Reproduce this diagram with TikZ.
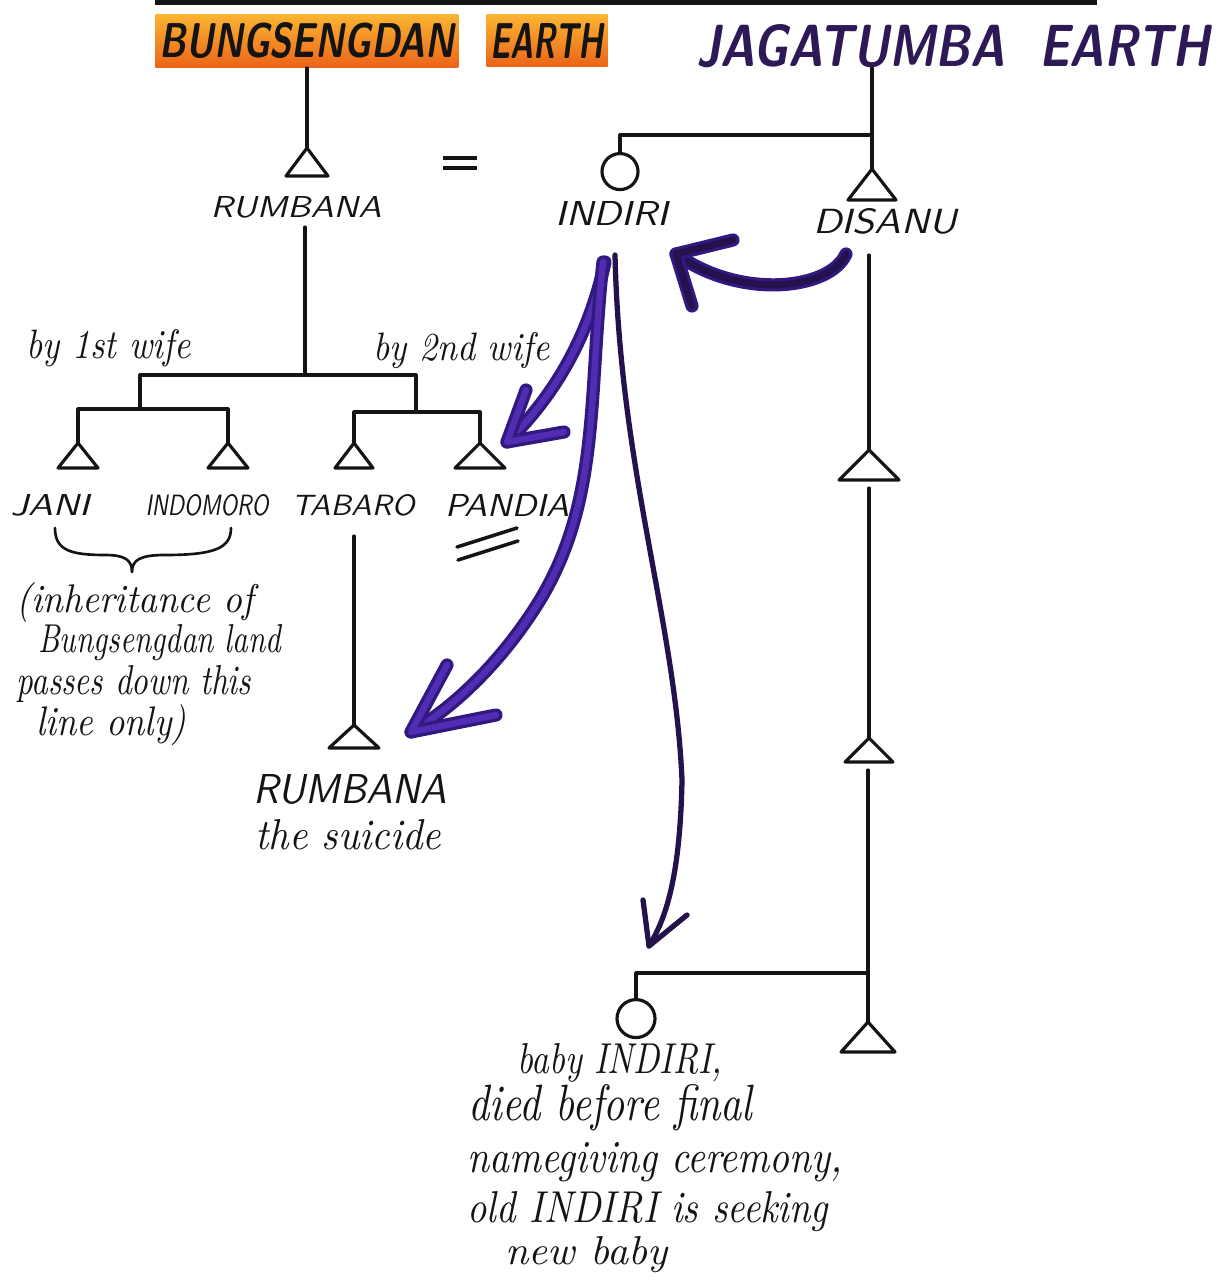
\documentclass[tikz,border=0pt]{standalone}
\usepackage{graphicx}
\definecolor{ink}{RGB}{20,20,20}
\definecolor{orangeA}{RGB}{250,180,50}
\definecolor{orangeB}{RGB}{235,100,25}
\definecolor{jagpurple}{RGB}{45,25,85}
\definecolor{markerout}{RGB}{50,25,130}
\definecolor{markerin}{RGB}{80,45,178}
\definecolor{markerdark}{RGB}{35,18,75}
\newcommand{\capsfit}[3]{\resizebox{#1}{#2}{\sffamily\slshape #3}}
\newcommand{\titlefit}[3]{\resizebox{#1}{#2}{\sffamily\bfseries\slshape #3}}
\newcommand{\handfit}[3]{\resizebox{#1}{#2}{\itshape #3}}
\newcommand{\kintri}[5]{\coordinate (#1) at (#2,#3); \draw[kin] (#1) -- ++(-#4,#5) -- ++(2*#4,0) -- cycle;}
\begin{document}
\begin{tikzpicture}[x=0.02cm,y=-0.02cm,
  kin/.style={draw=ink, line width=1.8pt, line cap=round, line join=round},
  lab/.style={inner sep=0pt, text=ink},
  hand/.style={inner sep=0pt, text=ink, anchor=base west},
  hilite/.style={inner xsep=0.08cm, inner ysep=0.17cm, top color=orangeA, bottom color=orangeB, text=ink},
  markthick/.style={draw=markerin, line width=3.6pt, line cap=round, line join=round,
     preaction={draw=markerout, line width=7.5pt, line cap=round, line join=round}},
  markdark/.style={draw=markerdark, line width=4pt, line cap=round, line join=round,
     preaction={draw=markerout, line width=7.5pt, line cap=round, line join=round}},
  markthin/.style={draw=markerdark, line width=3pt, line cap=round, line join=round}]
\useasboundingbox (0,0) rectangle (1220,1283);
\fill[white] (0,0) rectangle (1220,1283);

% top rule
\coordinate (ruleL) at (155,2);
\coordinate (ruleR) at (1097,2);
\draw[ink, line width=3.5pt] (ruleL) -- (ruleR);

% titles
\node[hilite] (bung) at (307,41) {\titlefit{5.9cm}{0.7cm}{BUNGSENGDAN}};
\node[hilite] (bungE) at (547,41) {\titlefit{2.26cm}{0.7cm}{EARTH}};
\node[lab, text=jagpurple] (jag) at (953,46) {\titlefit{10.28cm}{0.84cm}{JAGATUMBA\ \ EARTH}};

% generation 1
\kintri{tR}{307}{148}{21}{28}
\kintri{tD}{872}{169}{24}{31}
\node[kin, circle, minimum size=0.72cm, inner sep=0pt, anchor=north] (cI) at (620,152) {};
\coordinate (jTop) at (872,135);
\draw[kin] (bung.south) -- (tR);
\draw[kin] (tD |- jag.south) -- (tD);
\draw[kin] (cI.north) |- (jTop);

\coordinate (eqA) at (443,158); \coordinate (eqB) at (477,158);
\coordinate (eqC) at (443,168); \coordinate (eqD) at (477,168);
\draw[ink, line width=2.4pt] (eqA) -- (eqB);
\draw[ink, line width=2.4pt] (eqC) -- (eqD);

\node[lab] (rumb) at (296,207) {\capsfit{3.42cm}{0.42cm}{RUMBANA}};
\node[lab] (indiri) at (612,214) {\capsfit{2.26cm}{0.48cm}{INDIRI}};
\node[lab] (disanu) at (885,221) {\capsfit{2.88cm}{0.5cm}{DISANU}};

% Rumbana's children
\coordinate (rDown) at (305,227);
\coordinate (jR) at (305,375);
\coordinate (bL) at (140,409);
\coordinate (bR) at (416,412);
\draw[kin] (rDown) -- (jR);
\draw[kin] (bL) -- (bL |- jR) -- (bR |- jR) -- (bR);
\kintri{tJ}{78}{443}{20}{25}
\kintri{tIn}{228}{443}{20}{25}
\kintri{tT}{354}{443}{19}{25}
\kintri{tP}{480}{443}{25}{25}
\draw[kin] (tJ) -- (tJ |- bL) -- (tIn |- bL) -- (tIn);
\draw[kin] (tT) -- (tT |- bR) -- (tP |- bR) -- (tP);

\node[hand] (w1) at (26,358) {\handfit{3.28cm}{0.58cm}{by 1st wife}};
\node[hand] (w2) at (373,360) {\handfit{3.52cm}{0.56cm}{by 2nd wife}};

\node[lab] (jani) at (50,505) {\capsfit{1.58cm}{0.42cm}{JANI}};
\node[lab] (indomoro) at (207,505) {\capsfit{2.46cm}{0.42cm}{INDOMORO}};
\node[lab] (tabaro) at (353,505) {\capsfit{2.46cm}{0.42cm}{TABARO}};
\node[lab] (pandia) at (507,505) {\capsfit{2.48cm}{0.44cm}{PANDIA}};

% brace
\coordinate (brL) at (55,528);
\coordinate (brT) at (132,572);
\coordinate (brR) at (231,528);
\draw[kin, line width=1.5pt] (brL) .. controls (55,550) and (70,555) .. (105,555) .. controls (125,555) and (132,560) .. (brT);
\draw[kin, line width=1.5pt] (brT) .. controls (132,560) and (140,555) .. (165,555) .. controls (215,555) and (231,548) .. (brR);

% // under Pandia
\coordinate (sA) at (457,547); \coordinate (sB) at (517,528);
\coordinate (sC) at (458,560); \coordinate (sD) at (518,541);
\draw[ink, line width=2pt, line cap=round] (sA) -- (sB);
\draw[ink, line width=2pt, line cap=round] (sC) -- (sD);

% inheritance note
\node[hand] (n1) at (16,612) {\handfit{4.74cm}{0.6cm}{(inheritance of}};
\node[hand] (n2) at (38,652) {\handfit{4.86cm}{0.56cm}{Bungsengdan land}};
\node[hand] (n3) at (16,694) {\handfit{4.7cm}{0.58cm}{passes down this}};
\node[hand] (n4) at (36,735) {\handfit{3.0cm}{0.62cm}{line only)}};

% Tabaro's son
\coordinate (tabDown) at (354,536);
\kintri{tS}{354}{725}{25}{23}
\draw[kin] (tabDown) -- (tS);
\node[lab] (rumb2) at (350,789) {\capsfit{3.88cm}{0.58cm}{RUMBANA}};
\node[hand] (suic) at (255,849) {\handfit{3.72cm}{0.6cm}{the suicide}};

% Disanu's line
\coordinate (dTop) at (869,255);
\kintri{tD1}{869}{450}{30}{30}
\coordinate (d1b) at (869,488);
\kintri{tD2}{869}{738}{24}{24}
\coordinate (d2b) at (868,770);
\coordinate (jB) at (868,973);
\kintri{tD3}{868}{1022}{27}{30}
\draw[kin] (dTop) -- (tD1);
\draw[kin] (d1b) -- (tD2);
\draw[kin] (d2b) -- (jB) -- (tD3);
\node[kin, circle, minimum size=0.76cm, inner sep=0pt, anchor=north] (cB) at (636,998) {};
\draw[kin] (cB.north) |- (jB);

% bottom note
\node[hand] (b1) at (517,1073) {\handfit{4.1cm}{0.6cm}{baby INDIRI,}};
\node[hand] (b2) at (468,1120) {\handfit{5.68cm}{0.72cm}{died before final}};
\node[hand] (b3) at (467,1172) {\handfit{7.5cm}{0.6cm}{namegiving ceremony,}};
\node[hand] (b4) at (467,1222) {\handfit{7.22cm}{0.62cm}{old INDIRI is seeking}};
\node[hand] (b5) at (505,1264) {\handfit{3.24cm}{0.56cm}{new baby}};

% purple marker arrows
\coordinate (a1s) at (846,254);
\coordinate (a1t) at (676,254);
\coordinate (a1h1) at (733,240);
\coordinate (a1h2) at (692,306);
\draw[markdark] (a1s) .. controls (830,290) and (740,300) .. (a1t);
\draw[markdark] (a1h1) -- (a1t) -- (a1h2);

\coordinate (a2s) at (605,262);
\coordinate (a2t) at (507,442);
\coordinate (a2h1) at (526,390);
\coordinate (a2h2) at (564,432);
\draw[markthick] (a2s) .. controls (590,330) and (560,390) .. (a2t);
\draw[markthick] (a2h1) -- (a2t) -- (a2h2);

\coordinate (a3s) at (603,262);
\coordinate (a3m) at (540,600);
\coordinate (a3t) at (411,732);
\coordinate (a3h1) at (447,665);
\coordinate (a3h2) at (496,715);
\draw[markthick] (a3s) .. controls (588,400) and (600,500) .. (a3m) .. controls (500,665) and (450,710) .. (a3t);
\draw[markthick] (a3h1) -- (a3t) -- (a3h2);

\coordinate (a4s) at (615,255);
\coordinate (a4m) at (682,780);
\coordinate (a4t) at (649,946);
\coordinate (a4h1) at (643,900);
\coordinate (a4h2) at (687,915);
\draw[markthin] (a4s) .. controls (620,470) and (675,620) .. (a4m) .. controls (680,880) and (665,920) .. (a4t);
\draw[markthin] (a4h1) -- (a4t) -- (a4h2);
\end{tikzpicture}
\end{document}
